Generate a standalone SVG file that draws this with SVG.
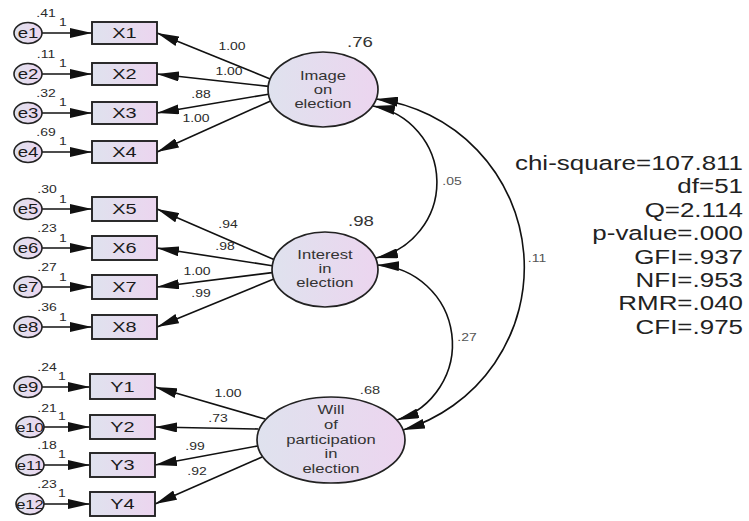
<svg xmlns="http://www.w3.org/2000/svg" width="749" height="521" viewBox="0 0 749 521">
<defs>
<linearGradient id="g" x1="0" y1="0" x2="1" y2="0">
<stop offset="0" stop-color="#dfe2ee"/>
<stop offset="1" stop-color="#ecd5ef"/>
</linearGradient>
<marker id="ah" markerUnits="userSpaceOnUse" markerWidth="23" markerHeight="10" refX="22" refY="5" orient="auto-start-reverse" viewBox="0 0 23 10">
<path d="M0,0 L22,5 L0,10 z" fill="#111"/>
</marker>
<style>
text{font-family:"Liberation Sans",Arial,sans-serif;text-anchor:middle;fill:#222;transform-box:fill-box;transform-origin:center;transform:scale(1.33,1)}
.box{fill:url(#g);stroke:#222;stroke-width:1.9}
.lat{fill:url(#g);stroke:#222;stroke-width:1.7}
.err{fill:url(#g);stroke:#222;stroke-width:1.6}
.bt{font-size:15px;fill:#1a1a1a}
.et{font-size:14px;fill:#1a1a1a}
.et2{font-size:12.5px;fill:#1a1a1a}
.pl{font-size:10.5px;fill:#2a2a2a}
.lt{font-size:12.5px;fill:#333}
.big{font-size:14px;fill:#333}
.sm{font-size:11px;fill:#333}
.cv{font-size:10.5px;fill:#555}
.fit{font-size:19.5px;text-anchor:end;transform-origin:right center;fill:#222}
#connectors line,#connectors path{stroke:#111;stroke-width:1.6;fill:none;marker-end:url(#ah)}
#connectors path{marker-start:url(#ah)}
</style>
</defs>
<rect width="749" height="521" fill="#fff"/>

<g id="connectors">
<line x1="42" y1="33" x2="92" y2="33"/>
<line x1="42" y1="74" x2="92" y2="74"/>
<line x1="42" y1="113" x2="92" y2="113"/>
<line x1="42" y1="152" x2="92" y2="152"/>
<line x1="42" y1="209" x2="92" y2="209"/>
<line x1="42" y1="248" x2="92" y2="248"/>
<line x1="42" y1="287" x2="92" y2="287"/>
<line x1="42" y1="327" x2="92" y2="327"/>
<line x1="42" y1="387" x2="90" y2="387"/>
<line x1="44" y1="427" x2="90" y2="427"/>
<line x1="44" y1="465" x2="90" y2="465"/>
<line x1="44" y1="504" x2="90" y2="504"/>
<line x1="270.2" y1="79" x2="157" y2="33"/>
<line x1="268.5" y1="86.4" x2="157" y2="74"/>
<line x1="268.5" y1="94.2" x2="157" y2="113"/>
<line x1="270.6" y1="100.9" x2="157" y2="152"/>
<line x1="273.9" y1="259.5" x2="157" y2="209"/>
<line x1="272.2" y1="265.7" x2="157" y2="248"/>
<line x1="272.2" y1="272.6" x2="157" y2="287"/>
<line x1="273.8" y1="279" x2="157" y2="327"/>
<line x1="265" y1="419" x2="155" y2="387"/>
<line x1="258.5" y1="429" x2="155" y2="427"/>
<line x1="257.5" y1="446" x2="155" y2="465"/>
<line x1="262" y1="457" x2="155" y2="504"/>
<path d="M373,106 A77.5,77.5 0 0 1 376,258"/>
<path d="M377,265 A79.4,79.4 0 0 1 397,420"/>
<path d="M376,99 A169.7,169.7 0 0 1 403,430"/>
</g>

<g id="labels">
<text class="pl" x="232" y="50">1.00</text>
<text class="pl" x="229" y="75">1.00</text>
<text class="pl" x="201" y="98">.88</text>
<text class="pl" x="196" y="122">1.00</text>
<text class="pl" x="228" y="228">.94</text>
<text class="pl" x="225" y="250">.98</text>
<text class="pl" x="197" y="275">1.00</text>
<text class="pl" x="201" y="297">.99</text>
<text class="pl" x="228" y="397">1.00</text>
<text class="pl" x="218" y="422">.73</text>
<text class="pl" x="195" y="450">.99</text>
<text class="pl" x="197" y="475">.92</text>
<text class="cv" x="452" y="185">.05</text>
<text class="cv" x="467" y="341">.27</text>
<text class="cv" x="537" y="262">.11</text>
</g>

<g id="e1"><ellipse class="err" cx="28" cy="33" rx="14" ry="10.5"/><text class="et" x="28" y="38">e1</text><text class="pl" x="46" y="17">.41</text><text class="pl" x="63" y="26">1</text></g>
<g id="e2"><ellipse class="err" cx="28" cy="74" rx="14" ry="10.5"/><text class="et" x="28" y="79">e2</text><text class="pl" x="46" y="58">.11</text><text class="pl" x="63" y="67">1</text></g>
<g id="e3"><ellipse class="err" cx="28" cy="113" rx="14" ry="10.5"/><text class="et" x="28" y="118">e3</text><text class="pl" x="46" y="97">.32</text><text class="pl" x="63" y="106">1</text></g>
<g id="e4"><ellipse class="err" cx="28" cy="152" rx="14" ry="10.5"/><text class="et" x="28" y="157">e4</text><text class="pl" x="46" y="136">.69</text><text class="pl" x="63" y="145">1</text></g>
<g id="e5"><ellipse class="err" cx="28" cy="209" rx="14" ry="10.5"/><text class="et" x="28" y="214">e5</text><text class="pl" x="47" y="193">.30</text><text class="pl" x="63" y="203">1</text></g>
<g id="e6"><ellipse class="err" cx="28" cy="248" rx="14" ry="10.5"/><text class="et" x="28" y="253">e6</text><text class="pl" x="47" y="232">.23</text><text class="pl" x="63" y="242">1</text></g>
<g id="e7"><ellipse class="err" cx="28" cy="287" rx="14" ry="10.5"/><text class="et" x="28" y="292">e7</text><text class="pl" x="47" y="271">.27</text><text class="pl" x="63" y="281">1</text></g>
<g id="e8"><ellipse class="err" cx="28" cy="327" rx="14" ry="10.5"/><text class="et" x="28" y="332">e8</text><text class="pl" x="47" y="311">.36</text><text class="pl" x="63" y="321">1</text></g>
<g id="e9"><ellipse class="err" cx="28" cy="387" rx="14" ry="10.5"/><text class="et" x="28" y="392">e9</text><text class="pl" x="47" y="371">.24</text><text class="pl" x="62" y="380">1</text></g>
<g id="e10"><ellipse class="err" cx="30" cy="427" rx="14" ry="10.5"/><text class="et2" x="30" y="432">e10</text><text class="pl" x="47" y="412">.21</text><text class="pl" x="62" y="420">1</text></g>
<g id="e11"><ellipse class="err" cx="30" cy="465" rx="14" ry="10.5"/><text class="et2" x="30" y="470">e11</text><text class="pl" x="47" y="449">.18</text><text class="pl" x="62" y="458">1</text></g>
<g id="e12"><ellipse class="err" cx="30" cy="504" rx="14" ry="10.5"/><text class="et2" x="30" y="509">e12</text><text class="pl" x="47" y="488">.23</text><text class="pl" x="62" y="497">1</text></g>

<g id="X1"><rect class="box" x="92" y="22" width="65" height="22"/><text class="bt" x="124.5" y="38.5">X1</text></g>
<g id="X2"><rect class="box" x="92" y="63" width="65" height="22"/><text class="bt" x="124.5" y="79.5">X2</text></g>
<g id="X3"><rect class="box" x="92" y="102" width="65" height="22"/><text class="bt" x="124.5" y="118.5">X3</text></g>
<g id="X4"><rect class="box" x="92" y="141" width="65" height="22"/><text class="bt" x="124.5" y="157.5">X4</text></g>
<g id="X5"><rect class="box" x="92" y="197" width="65" height="24"/><text class="bt" x="124.5" y="214.5">X5</text></g>
<g id="X6"><rect class="box" x="92" y="236" width="65" height="24"/><text class="bt" x="124.5" y="253.5">X6</text></g>
<g id="X7"><rect class="box" x="92" y="275" width="65" height="24"/><text class="bt" x="124.5" y="292.5">X7</text></g>
<g id="X8"><rect class="box" x="92" y="315" width="65" height="24"/><text class="bt" x="124.5" y="332.5">X8</text></g>
<g id="Y1"><rect class="box" x="90" y="374" width="65" height="25"/><text class="bt" x="122.5" y="392">Y1</text></g>
<g id="Y2"><rect class="box" x="90" y="415" width="65" height="24"/><text class="bt" x="122.5" y="432.5">Y2</text></g>
<g id="Y3"><rect class="box" x="90" y="453" width="65" height="24"/><text class="bt" x="122.5" y="470.5">Y3</text></g>
<g id="Y4"><rect class="box" x="90" y="492" width="65" height="24"/><text class="bt" x="122.5" y="509.5">Y4</text></g>

<g id="image">
<ellipse class="lat" cx="323" cy="89.5" rx="55" ry="37.5"/>
<text class="lt" x="323" y="80">Image</text>
<text class="lt" x="323" y="94">on</text>
<text class="lt" x="323" y="108">election</text>
<text class="big" x="360" y="47">.76</text>
</g>
<g id="interest">
<ellipse class="lat" cx="325" cy="269.5" rx="53" ry="37.5"/>
<text class="lt" x="325" y="259">Interest</text>
<text class="lt" x="325" y="273">in</text>
<text class="lt" x="325" y="287">election</text>
<text class="big" x="361" y="226">.98</text>
</g>
<g id="will">
<ellipse class="lat" cx="331" cy="440" rx="74" ry="43"/>
<text class="lt" x="331" y="414">Will</text>
<text class="lt" x="331" y="429">of</text>
<text class="lt" x="331" y="444">participation</text>
<text class="lt" x="331" y="458">in</text>
<text class="lt" x="331" y="473">election</text>
<text class="sm" x="370" y="394">.68</text>
</g>

<g id="fit">
<text class="fit" x="743" y="170">chi-square=107.811</text>
<text class="fit" x="743" y="193.4">df=51</text>
<text class="fit" x="743" y="216.8">Q=2.114</text>
<text class="fit" x="743" y="240.2">p-value=.000</text>
<text class="fit" x="743" y="263.6">GFI=.937</text>
<text class="fit" x="743" y="287">NFI=.953</text>
<text class="fit" x="743" y="310.4">RMR=.040</text>
<text class="fit" x="743" y="333.8">CFI=.975</text>
</g>
</svg>
